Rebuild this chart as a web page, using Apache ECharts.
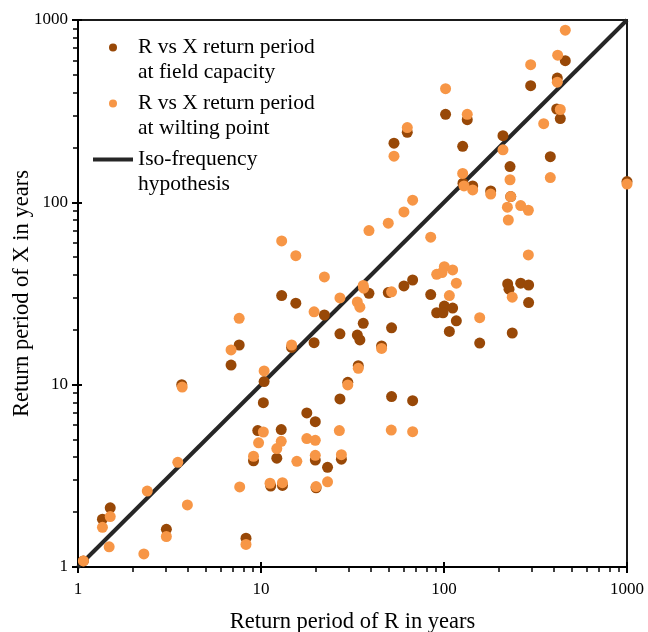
<!DOCTYPE html>
<html>
<head>
<meta charset="utf-8">
<script src="https://cdn.jsdelivr.net/npm/echarts@6/dist/echarts.min.js"></script>
<style>html,body{margin:0;padding:0;background:#fff}#c{width:648px;height:632px}</style>
</head>
<body>
<div id="c"></div>
<script>
// ---- Data ----
const seriesNames = [
  'R vs X return period\nat field capacity',
  'R vs X return period\nat wilting point',
  'Iso-frequency\nhypothesis'
];
const xAxisTitle = 'Return period of R in years';
const yAxisTitle = 'Return period of X in years';
const majorTicks = [1, 10, 100, 1000];
const minorTicks = [2,3,4,5,6,7,8,9,20,30,40,50,60,70,80,90,200,300,400,500,600,700,800,900];

// [return period of R, return period of X] at field capacity
const fieldCapacity = [
  [1.07,1.08],[1.36,1.83],[1.50,2.11],[3.04,1.61],[3.69,10.0],[8.28,1.44],[9.6,5.6],[9.1,3.82],
  [10.4,10.4],[10.3,7.97],[11.3,2.78],[12.9,5.67],[12.2,3.95],[13.1,2.8],[7.6,16.5],[6.86,12.8],
  [12.97,30.8],[15.5,28],[22.2,24.1],[27,19],[14.7,16],[19.5,17],[38.9,31.7],[36.2,21.7],
  [33.6,18.7],[34.7,17.6],[49.6,32],[51.7,20.5],[27,8.35],[17.8,7.0],[19.8,6.27],[34,12.7],
  [29.8,10.3],[45.6,16.3],[51.7,8.6],[67.4,8.17],[19.8,3.86],[23.1,3.52],[27.5,3.9],[20,2.72],
  [67.4,37.5],[60.4,34.8],[84.6,31.2],[100.4,27],[91.2,24.8],[98.7,24.8],[111.5,26.3],[116.8,22.4],
  [107,19.6],[156.7,16.9],[222.8,35.7],[226.6,33.4],[262.5,36],[290,35.2],[290,28.2],[236,19.2],
  [460,598],[297.6,436],[416,480],[413,325],[432,288],[381,178],[102,304],[134,284],[63,242],
  [53.3,211],[126.5,203],[210,232],[229.5,157],[127,127.3],[143.5,123],[180,115.5],[231.5,107.5],
  [1000,130]
];
// [return period of R, return period of X] at wilting point
const wiltingPoint = [
  [1.07,1.08],[1.50,1.89],[1.36,1.65],[1.48,1.29],[2.29,1.18],[2.39,2.61],[3.51,3.75],[3.96,2.19],
  [3.04,1.47],[3.71,9.7],[8.28,1.33],[10.3,5.5],[9.7,4.8],[9.1,4.05],[7.65,2.75],[10.4,11.9],
  [11.2,2.88],[12.97,61.4],[15.5,51],[22.2,39],[38.9,70],[49.6,76.8],[19.5,25.1],[27,29.9],
  [36.2,35],[36.4,33.8],[33.6,28.4],[34.7,26.6],[51.7,32.3],[7.6,23.1],[6.86,15.5],[14.7,16.5],
  [34,12.3],[29.8,9.96],[45.6,15.8],[51.5,5.64],[67.4,5.52],[26.8,5.6],[12.9,4.89],[12.2,4.46],
  [17.8,5.06],[19.8,4.95],[15.7,3.8],[19.8,4.1],[27.5,4.13],[13.1,2.9],[20,2.76],[23.1,2.93],
  [84.6,64.4],[224.6,80],[289,51.5],[100.4,44.4],[111.5,42.6],[91.2,40.3],[97.5,41.2],[116.8,36],
  [107,30.8],[156.7,23.3],[236,30.2],[460,879],[418,641],[297.6,569],[416,456],[432,323],
  [350.6,270],[381,136.8],[102,420],[134,304],[63,257],[53.3,179],[210,194],[229.5,133],
  [126.5,144],[128.6,123],[143.5,117],[180,111],[231.5,107.5],[67.4,102.7],[60.4,88.6],[222,94],
  [262.5,96],[289,90.5],[1000,126]
];
// 1:1 line
const isoFrequency = [[1,1],[1000,1000]];

// ---- Styles ----
const FONT = 'Liberation Serif, Times New Roman, serif';
const DARK = '#984807';
const LIGHT = '#F79646';
const LINE = '#262626';

function logAxis(extra) {
  return Object.assign({
    type: 'log', logBase: 10, min: 1, max: 1000,
    splitLine: { show: false },
    minorTick: { show: false },
    minorSplitLine: { show: false }
  }, extra);
}

const chart = echarts.init(document.getElementById('c'), null, { renderer: 'canvas' });
chart.setOption({
  backgroundColor: '#fff',
  animation: false,
  textStyle: { fontFamily: FONT },
  grid: {
    left: 78, right: 21, top: 20, bottom: 65,
    containLabel: false, outerBoundsMode: 'none',
    show: true, borderColor: '#1a1a1a', borderWidth: 2
  },
  legend: {
    orient: 'vertical',
    left: 93, top: 10, padding: 0,
    itemWidth: 40, itemHeight: 8, itemGap: -19,
    data: [
      { name: seriesNames[0], icon: 'circle' },
      { name: seriesNames[1], icon: 'circle' },
      { name: seriesNames[2], icon: 'path://M0,0L40,0L40,4L0,4Z' }
    ],
    formatter: function (n) { return '\n' + n; },
    textStyle: { fontFamily: FONT, fontSize: 21.5, lineHeight: 25, color: '#000' },
    selectedMode: false
  },
  xAxis: [
    logAxis({
      position: 'bottom',
      name: xAxisTitle, nameLocation: 'middle', nameGap: 44, nameMoveOverlap: false,
      nameTextStyle: { fontFamily: FONT, fontSize: 22.5, color: '#000' },
      axisLine: { show: true, lineStyle: { color: '#000', width: 2 } },
      axisTick: { show: true, inside: false, length: 6, lineStyle: { color: '#000', width: 2 }, customValues: majorTicks },
      axisLabel: { show: true, margin: 14, fontFamily: FONT, fontSize: 17, color: '#000', customValues: majorTicks,
        formatter: function (v) { return String(Math.round(v)); } }
    }),
    logAxis({
      position: 'bottom',
      axisLine: { show: false },
      axisTick: { show: true, inside: false, length: 5, lineStyle: { color: '#000', width: 1.5 }, customValues: minorTicks },
      axisLabel: { show: false }
    }),
    logAxis({
      position: 'bottom',
      axisLine: { show: false },
      axisTick: { show: true, inside: true, length: 5, lineStyle: { color: '#000', width: 2 }, customValues: majorTicks },
      axisLabel: { show: false }
    })
  ],
  yAxis: [
    logAxis({
      position: 'left',
      name: yAxisTitle, nameLocation: 'middle', nameGap: 44, nameMoveOverlap: false,
      nameTextStyle: { fontFamily: FONT, fontSize: 22.5, color: '#000' },
      axisLine: { show: true, lineStyle: { color: '#000', width: 2 } },
      axisTick: { show: true, inside: false, length: 6, lineStyle: { color: '#000', width: 2 }, customValues: majorTicks },
      axisLabel: { show: true, margin: 10, fontFamily: FONT, fontSize: 17, color: '#000', customValues: majorTicks,
        formatter: function (v) { return String(Math.round(v)); } }
    }),
    logAxis({
      position: 'left',
      axisLine: { show: false },
      axisTick: { show: true, inside: false, length: 5, lineStyle: { color: '#000', width: 1.5 }, customValues: minorTicks },
      axisLabel: { show: false }
    }),
    logAxis({
      position: 'left',
      axisLine: { show: false },
      axisTick: { show: true, inside: true, length: 4, lineStyle: { color: '#000', width: 2 }, customValues: majorTicks },
      axisLabel: { show: false }
    })
  ],
  series: [
    {
      name: seriesNames[2], type: 'line', data: isoFrequency,
      xAxisIndex: 0, yAxisIndex: 0,
      symbol: 'none', showSymbol: false,
      lineStyle: { color: LINE, width: 4 }, itemStyle: { color: LINE },
      z: 1, silent: true
    },
    {
      name: seriesNames[0], type: 'scatter', data: fieldCapacity,
      xAxisIndex: 0, yAxisIndex: 0,
      symbol: 'circle', symbolSize: 11, clip: false,
      itemStyle: { color: DARK, opacity: 1 }, z: 2
    },
    {
      name: seriesNames[1], type: 'scatter', data: wiltingPoint,
      xAxisIndex: 0, yAxisIndex: 0,
      symbol: 'circle', symbolSize: 11, clip: false,
      itemStyle: { color: LIGHT, opacity: 1 }, z: 3
    }
  ]
});
</script>
</body>
</html>
